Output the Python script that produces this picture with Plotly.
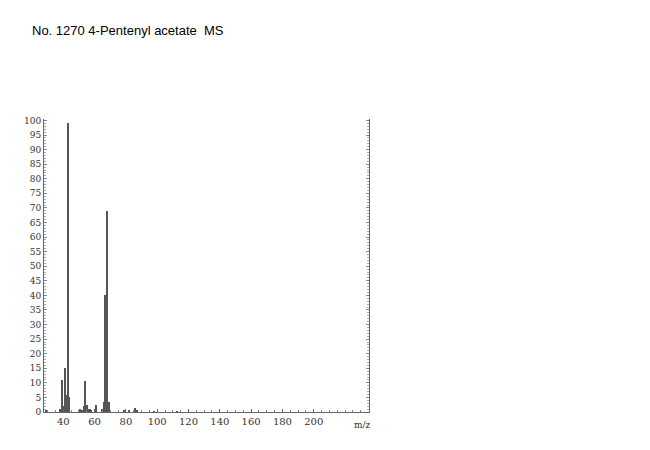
import plotly.graph_objects as go

mz = [27, 29, 38, 39, 40, 41, 42, 43, 44, 50, 51, 52, 53, 54, 55, 56, 57, 58, 61, 65, 66, 67, 68, 69, 70, 79, 82, 85, 86, 87, 98, 113]
intensity = [0.5, 0.8, 1.0, 11.0, 2.0, 15.0, 6.0, 99.0, 5.0, 0.6, 1.0, 0.8, 2.0, 10.5, 2.5, 1.0, 1.0, 0.5, 2.5, 1.0, 3.5, 40.0, 69.0, 3.5, 0.8, 0.5, 0.6, 0.8, 1.5, 0.5, 0.3, 0.3]

x_ticks = [40, 60, 80, 100, 120, 140, 160, 180, 200]
y_ticks = list(range(0, 101, 5))
title_text = "No. 1270 4-Pentenyl acetate  MS"

fig = go.Figure()
fig.add_trace(go.Bar(x=mz, y=intensity, width=0.7,
                     marker=dict(color="#555555", line=dict(width=0))))

fig.update_layout(
    width=650, height=450,
    margin=dict(l=36, r=289, t=111, b=46),
    paper_bgcolor="white", plot_bgcolor="white",
    showlegend=False, bargap=0,
    font=dict(family="DejaVu Serif", size=9, color="#333333"),
    title=dict(text=title_text, xref="container", yref="container",
               x=24 / 650, y=1 - 22 / 450, xanchor="left", yanchor="middle",
               font=dict(family="Liberation Sans", size=13, color="black")),
)
fig.update_xaxes(range=[27.7, 235.3], tickvals=x_ticks, ticktext=[str(v) for v in x_ticks],
                 showgrid=False, zeroline=False, showline=True, linecolor="#666666", linewidth=1,
                 ticks="inside", ticklen=3, tickcolor="#666666",
                 minor=dict(dtick=5, ticks="inside", ticklen=2, tickcolor="#888888"),
                 tickfont=dict(size=10, family="DejaVu Serif", color="#333333"))
fig.update_yaxes(range=[0, 100.5], tickvals=y_ticks, ticktext=[str(v) for v in y_ticks],
                 showgrid=False, zeroline=False, showline=True, linecolor="#666666", linewidth=1,
                 mirror="ticks", ticks="inside", ticklen=3, tickcolor="#888888",
                 minor=dict(dtick=1, ticks="inside", ticklen=2, tickcolor="#aaaaaa"),
                 tickfont=dict(size=9, family="DejaVu Serif", color="#333333"))

fig.add_annotation(text="m/z", xref="paper", yref="paper", x=1.0, y=0, xanchor="right", yanchor="top",
                   yshift=-6, xshift=4, showarrow=False,
                   font=dict(family="DejaVu Serif", size=9, color="#333333"))

fig.write_html("out.html")
